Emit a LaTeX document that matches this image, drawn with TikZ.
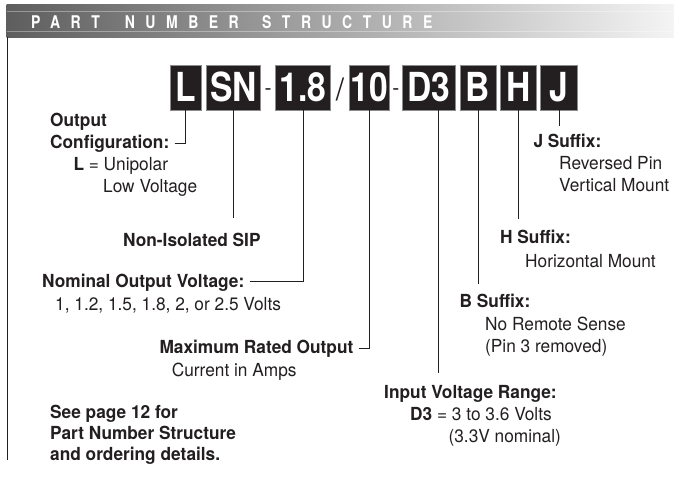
\documentclass[tikz,border=0pt]{standalone}
\usepackage{fontspec}
\setmainfont{TeX Gyre Heros}
\newfontfamily\lblfont[FakeStretch=0.96]{TeX Gyre Heros}
\newfontfamily\boxfont[FakeStretch=0.84]{TeX Gyre Heros}
\newfontfamily\ttlfont[FakeStretch=0.8,LetterSpace=60]{TeX Gyre Heros}
\usetikzlibrary{positioning, calc}
\definecolor{ink}{HTML}{231F20}
\definecolor{edge}{HTML}{8C8C8C}
\definecolor{barL}{HTML}{5E5E5E}
\definecolor{barR}{HTML}{F4F4F4}

\begin{document}
\begin{tikzpicture}[
    x=1pt, y=-1pt,
box/.style = {draw=edge, line width=0.8pt, fill=ink, text=white, minimum height=45pt,
              inner sep=0pt, text height=28.7pt, text depth=0pt,
              font=\boxfont\bfseries\fontsize{40pt}{40pt}\selectfont},
sep/.style = {inner sep=0pt, anchor=base, text=ink, font=\lblfont\fontsize{22pt}{22pt}\selectfont},
txt/.style = {inner sep=0pt, anchor=base west, text=ink, font=\lblfont\fontsize{18pt}{22pt}\selectfont},
hd/.style  = {txt, font=\lblfont\bfseries\fontsize{18pt}{22pt}\selectfont},
ttl/.style = {inner sep=0pt, anchor=base west, text=white, font=\ttlfont\bfseries\fontsize{17.5pt}{17.5pt}\selectfont},
tick/.style = {draw=ink, line width=1pt}
                        ]
\useasboundingbox (0,0) rectangle (674,503);
% title bar
\shade[left color=barL, right color=barR] (6.7,5) rectangle (674,37.3);
\draw[white, opacity=.35, line width=.6pt] (6.7,11) -- (674,11) (6.7,31.7) -- (674,31.7);
\draw[ink, line width=1.4pt] (7.3,37.3) -- (7.3,460);
\node (tPart)   [ttl] at (31,28.3)    {PART};
\node (tNumber) [ttl] at (124.7,28.3) {NUMBER};
\node (tStruct) [ttl] at (262,28.3)   {STRUCTURE};
% part number boxes
\node (bL)  [box, minimum width=31.7pt] at (185.9,87.5) {L};
\node (bSN) [box, minimum width=54.3pt, right=4pt of bL]     {SN};
\node (b18) [box, minimum width=55pt,   right=14pt of bSN]   {1.8};
\node (b10) [box, minimum width=40.3pt, right=17.7pt of b18] {10};
\node (bD3) [box, minimum width=52.7pt, right=12.3pt of b10] {D3};
\node (bB)  [box, minimum width=36pt,   right=4pt of bD3]    {B};
\node (bH)  [box, minimum width=36pt,   right=4pt of bB]     {H};
\node (bJ)  [box, minimum width=36.7pt, right=3pt of bH]     {J};
\node (s1) [sep, yshift=-8pt]  at ($(bSN.east)!.5!(b18.west)$) {-};
\node (s2) [sep, yshift=-13pt, font=\lblfont\fontsize{31pt}{31pt}\selectfont] at ($(b18.east)!.5!(b10.west)$) {/};
\node (s3) [sep, yshift=-8pt]  at ($(b10.east)!.5!(bD3.west)$) {-};
% left column
\node (lOut)  [hd]  at (50,126.5)  {Output};
\node (lConf) [hd]  at (50,148.5)  {Configuration:};
\node (lUni)  [txt] at (73.3,170.5) {\bfseries L\mdseries{} = Unipolar};
\node (lLow)  [txt] at (103,192.5) {Low Voltage};
\node (lSIP)  [hd]  at (123,246.5) {Non-Isolated SIP};
\node (lNom)  [hd]  at (42,287.5)  {Nominal Output Voltage:};
\node (lVolt) [txt] at (55,310.5)  {1, 1.2, 1.5, 1.8, 2, or 2.5 Volts};
\node (lMax)  [hd]  at (159.3,353.5) {Maximum Rated Output};
\node (lAmp)  [txt] at (171.7,376.5) {Current in Amps};
\node (lSee)  [hd]  at (50,418.5)  {See page 12 for};
\node (lPNS)  [hd]  at (50,439.5)  {Part Number Structure};
\node (lOrd)  [hd]  at (50,460.5)  {and ordering details.};
% right column
\node (lJ)    [hd]  at (533.3,147.5) {J Suffix:};
\node (lRev)  [txt] at (559,169.5)   {Reversed Pin};
\node (lVert) [txt] at (559,191.5)   {Vertical Mount};
\node (lH)    [hd]  at (500,243.5)   {H Suffix:};
\node (lHor)  [txt] at (525,267.5)   {Horizontal Mount};
\node (lB)    [hd]  at (459.5,307.5) {B Suffix:};
\node (lNoRS) [txt] at (485,330)     {No Remote Sense};
\node (lPin)  [txt] at (485,352)     {(Pin 3 removed)};
\node (lIVR)  [hd]  at (384,398.5)   {Input Voltage Range:};
\node (lD3)   [txt] at (410,420.5)   {\bfseries D3\mdseries{} = 3 to 3.6 Volts};
\node (lNomV) [txt] at (448.4,442.5) {(3.3V nominal)};
% connectors
\draw[tick] ([xshift=5pt]lConf.east) -| (bL.south);
\draw[tick] (bSN.south) -- ([yshift=15pt]bSN.south |- lSIP.north);
\draw[tick] ([xshift=5pt,yshift=1pt]lNom.east) -| (b18.south);
\draw[tick] ([xshift=5pt]lMax.east) -| (b10.south);
\draw[tick] ([xshift=10pt]bD3.south) -- ([xshift=10pt,yshift=12pt]bD3.south |- lIVR.north);
\draw[tick] (bB.south) -- ([yshift=9.5pt]bB.south |- lB.north);
\draw[tick] (bH.south) -- ([yshift=10.5pt]bH.south |- lH.north);
\draw[tick] (bJ.south) -- ([yshift=7.7pt]bJ.south |- lJ.north);
    \end{tikzpicture}
\end{document}
